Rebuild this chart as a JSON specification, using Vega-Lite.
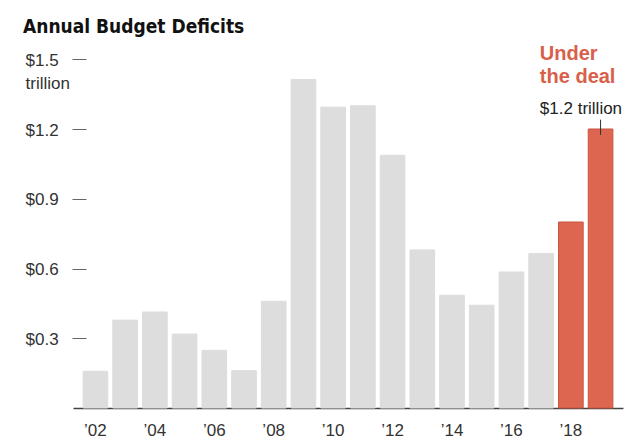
{
  "$schema": "https://vega.github.io/schema/vega-lite/v6.json",
  "autosize": "none",
  "width": 550,
  "height": 372,
  "padding": {"left": 73, "top": 36, "right": 17, "bottom": 35},
  "background": "white",
  "title": {
    "text": "Annual Budget Deficits",
    "anchor": "start",
    "frame": "bounds",
    "baseline": "alphabetic",
    "offset": -16,
    "dx": -2,
    "font": "'Liberation Sans Narrow', 'DejaVu Sans Condensed', sans-serif",
    "fontSize": 19,
    "fontWeight": "bold",
    "color": "#111111"
  },
  "config": {
    "view": {"stroke": null},
    "font": "Liberation Sans"
  },
  "layer": [
    {
      "data": {
        "values": [
          {"year": "2002", "deficit": 0.158, "period": "actual"},
          {"year": "2003", "deficit": 0.378, "period": "actual"},
          {"year": "2004", "deficit": 0.413, "period": "actual"},
          {"year": "2005", "deficit": 0.318, "period": "actual"},
          {"year": "2006", "deficit": 0.248, "period": "actual"},
          {"year": "2007", "deficit": 0.161, "period": "actual"},
          {"year": "2008", "deficit": 0.459, "period": "actual"},
          {"year": "2009", "deficit": 1.413, "period": "actual"},
          {"year": "2010", "deficit": 1.294, "period": "actual"},
          {"year": "2011", "deficit": 1.3, "period": "actual"},
          {"year": "2012", "deficit": 1.087, "period": "actual"},
          {"year": "2013", "deficit": 0.68, "period": "actual"},
          {"year": "2014", "deficit": 0.485, "period": "actual"},
          {"year": "2015", "deficit": 0.442, "period": "actual"},
          {"year": "2016", "deficit": 0.585, "period": "actual"},
          {"year": "2017", "deficit": 0.665, "period": "actual"},
          {"year": "2018", "deficit": 0.8, "period": "deal"},
          {"year": "2019", "deficit": 1.2, "period": "deal"}
        ]
      },
      "mark": {"type": "bar", "strokeWidth": 1},
      "encoding": {
        "x": {
          "field": "year",
          "type": "ordinal",
          "scale": {"paddingInner": 0.17, "paddingOuter": 0.34},
          "axis": {
            "title": null,
            "ticks": false,
            "domainColor": "#444444",
            "domainWidth": 1.5,
            "labelAngle": 0,
            "labelFontSize": 17,
            "labelColor": "#333333",
            "labelPadding": 14,
            "labelExpr": "toNumber(datum.value) % 2 == 0 ? '’' + substring(datum.value, 2) : ''"
          }
        },
        "y": {
          "field": "deficit",
          "type": "quantitative",
          "scale": {"domain": [0, 1.5]},
          "axis": {
            "title": null,
            "values": [0.3, 0.6, 0.9, 1.2, 1.5],
            "grid": false,
            "domain": false,
            "offset": -13,
            "tickSize": 14,
            "tickColor": "#666666",
            "tickWidth": 1,
            "labelAlign": "left",
            "labelBaseline": "alphabetic",
            "labelOffset": 6,
            "labelPadding": 47,
            "labelFontSize": 17,
            "labelColor": "#333333",
            "labelLineHeight": 23,
            "labelExpr": "datum.value == 1.5 ? ['$1.5', 'trillion'] : '$' + format(datum.value, '.1f')"
          }
        },
        "color": {
          "field": "period",
          "type": "nominal",
          "scale": {"domain": ["actual", "deal"], "range": ["#dddddd", "#dc6650"]},
          "legend": null
        },
        "stroke": {
          "field": "period",
          "type": "nominal",
          "scale": {"domain": ["actual", "deal"], "range": ["#dddddd", "#c95540"]},
          "legend": null
        }
      }
    },
    {
      "data": {"values": [{"year": "2019", "top": 1.24, "bottom": 1.175}]},
      "mark": {"type": "rule", "color": "#333333", "strokeWidth": 1},
      "encoding": {
        "x": {"field": "year", "type": "ordinal"},
        "y": {"field": "top", "type": "quantitative"},
        "y2": {"field": "bottom"}
      }
    },
    {
      "data": {"values": [{"year": "2018", "value": 1.2, "note": "$1.2 trillion"}]},
      "mark": {"type": "text", "align": "left", "baseline": "alphabetic", "dx": -31, "dy": -15, "fontSize": 17, "fill": "#222222"},
      "encoding": {
        "x": {"field": "year", "type": "ordinal"},
        "y": {"field": "value", "type": "quantitative"},
        "text": {"field": "note"}
      }
    },
    {
      "data": {"values": [{"year": "2018", "value": 1.2, "line1": "Under", "line2": "the deal"}]},
      "mark": {"type": "text", "align": "left", "baseline": "alphabetic", "dx": -31, "dy": -69, "fontSize": 20, "fontWeight": "bold", "lineHeight": 23, "fill": "#d8604a"},
      "encoding": {
        "x": {"field": "year", "type": "ordinal"},
        "y": {"field": "value", "type": "quantitative"},
        "text": {"value": ["Under", "the deal"]}
      }
    }
  ]
}
